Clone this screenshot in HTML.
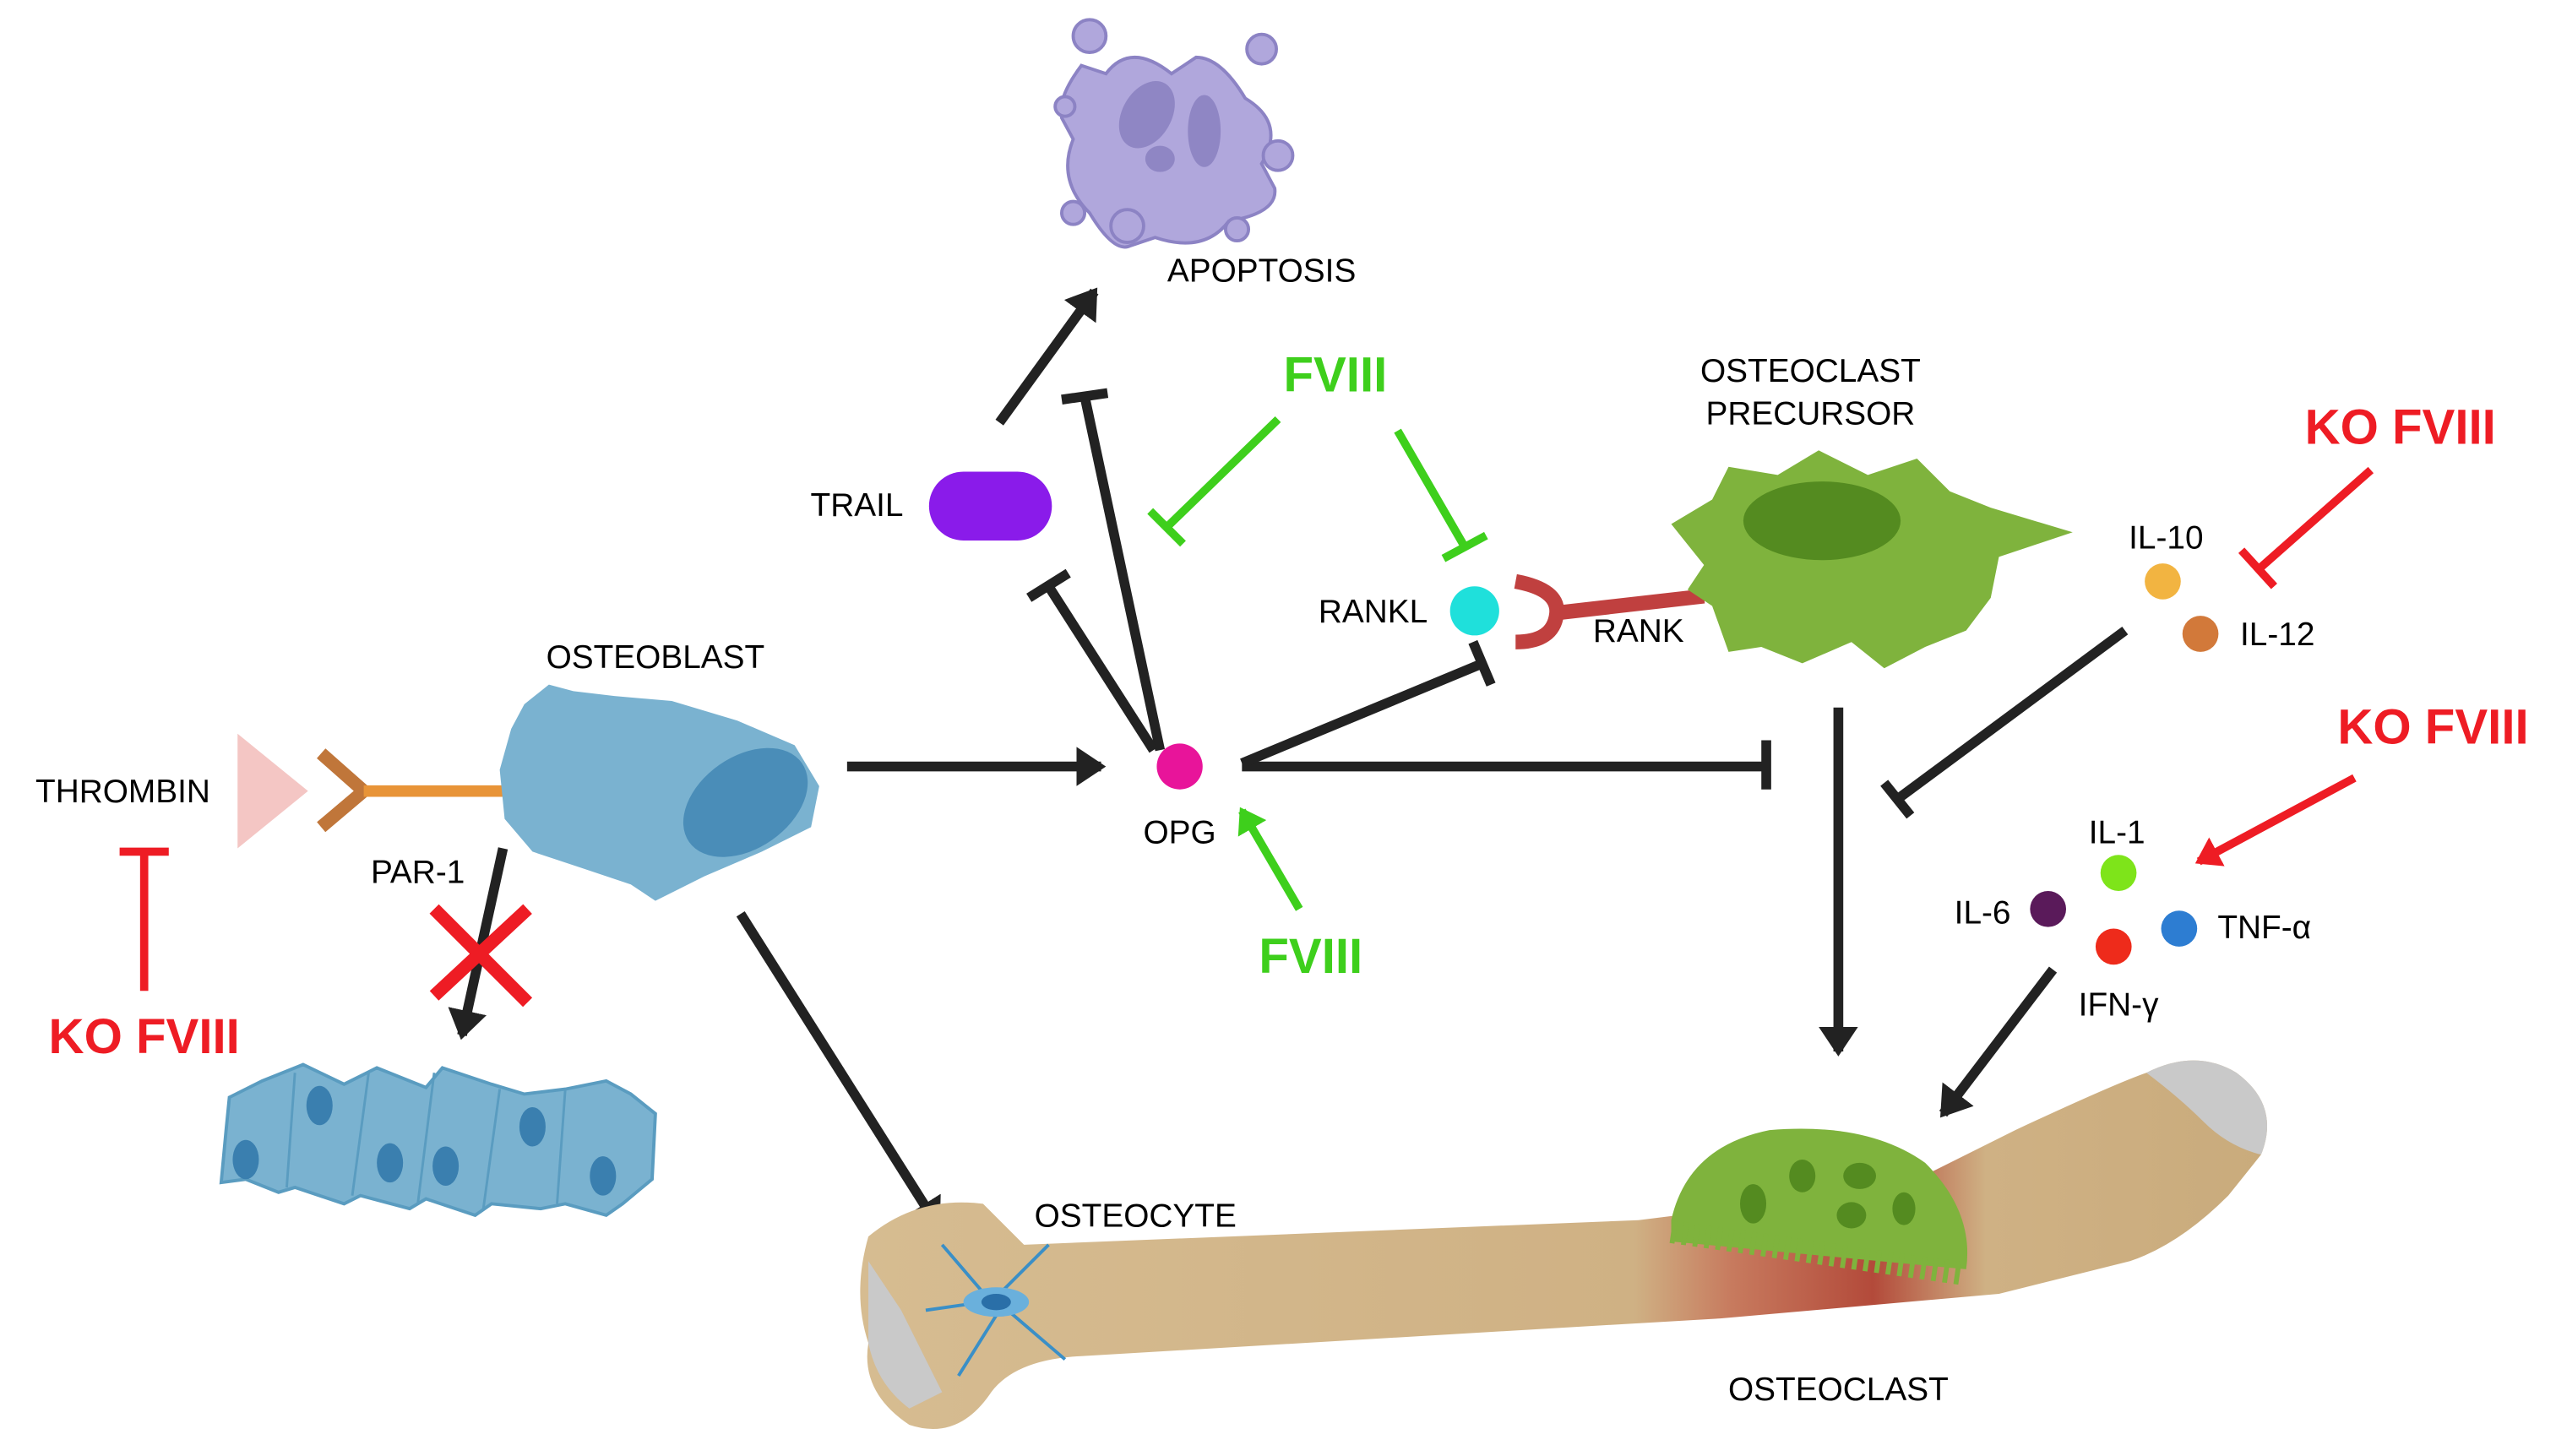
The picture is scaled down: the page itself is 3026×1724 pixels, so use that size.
<!DOCTYPE html>
<html><head><meta charset="utf-8"><style>
html,body{margin:0;padding:0;background:#fff;}
svg{display:block}
text{font-family:"Liberation Sans",sans-serif;}
</style></head><body>
<svg width="3026" height="1724" viewBox="0 0 1560 889" preserveAspectRatio="none" xmlns="http://www.w3.org/2000/svg">
<defs>
<marker id="ab" markerWidth="6" markerHeight="6" refX="2.5" refY="3" orient="auto" markerUnits="strokeWidth"><path d="M0,1 L3,3 L0,5 z" fill="#222"/></marker>
<marker id="ag" markerWidth="6" markerHeight="6" refX="2.5" refY="3" orient="auto" markerUnits="strokeWidth"><path d="M0,1 L3,3 L0,5 z" fill="#3ecf1c"/></marker>
<marker id="ar" markerWidth="6" markerHeight="6" refX="2.5" refY="3" orient="auto" markerUnits="strokeWidth"><path d="M0,1 L3,3 L0,5 z" fill="#ee1c24"/></marker>
<linearGradient id="bone" x1="0" y1="0" x2="1" y2="0"><stop offset="0" stop-color="#d6bc91"/><stop offset="0.55" stop-color="#cfb184"/><stop offset="0.62" stop-color="#c77a5e"/><stop offset="0.72" stop-color="#b34a3a"/><stop offset="0.8" stop-color="#cfb184"/><stop offset="1" stop-color="#c9ab7c"/></linearGradient>
</defs>

<!-- apoptosis -->
<g fill="#b0a7dc" stroke="#8c83c4" stroke-width="2">
<path d="M660,40 L675,45 Q690,25 715,45 L730,35 Q745,35 760,60 Q785,75 770,100 L778,115 Q780,130 750,135 Q735,155 705,145 L690,150 Q680,155 665,130 Q645,110 655,85 L648,72 Q645,60 660,40z"/>
<circle cx="665" cy="22" r="10"/><circle cx="770" cy="30" r="9"/><circle cx="780" cy="95" r="9"/><circle cx="655" cy="130" r="7"/><circle cx="688" cy="138" r="10"/><circle cx="755" cy="140" r="7"/><circle cx="650" cy="65" r="6"/>
</g>
<g fill="#8f86c4"><ellipse cx="700" cy="70" rx="15" ry="22" transform="rotate(30 700 70)"/><ellipse cx="735" cy="80" rx="10" ry="22"/><ellipse cx="708" cy="97" rx="9" ry="8"/></g>
<text x="770" y="172" font-size="20" text-anchor="middle">APOPTOSIS</text>

<!-- black connectors -->
<g stroke="#222" stroke-width="6" fill="none">
<line x1="610" y1="258" x2="668" y2="178" marker-end="url(#ab)"/>
<line x1="708" y1="458" x2="662" y2="242"/><line x1="648" y1="244" x2="676" y2="240"/>
<line x1="704" y1="458" x2="640" y2="358"/><line x1="628" y1="365" x2="652" y2="350"/>
<line x1="517" y1="468" x2="672" y2="468" marker-end="url(#ab)"/>
<line x1="758" y1="468" x2="1078" y2="468"/><line x1="1078" y1="452" x2="1078" y2="482"/>
<line x1="758" y1="466" x2="905" y2="405"/><line x1="899" y1="392" x2="910" y2="418"/>
<line x1="1297" y1="385" x2="1158" y2="488"/><line x1="1150" y1="478" x2="1166" y2="498"/>
<line x1="1122" y1="432" x2="1122" y2="642" marker-end="url(#ab)"/>
<line x1="1253" y1="592" x2="1186" y2="680" marker-end="url(#ab)"/>
<line x1="307" y1="518" x2="282" y2="632" marker-end="url(#ab)"/>
<line x1="452" y1="558" x2="572" y2="748" marker-end="url(#ab)"/>
</g>

<!-- TRAIL -->
<rect x="567" y="288" width="75" height="42" rx="21" fill="#8a1bea"/>
<text x="523" y="315" font-size="20" text-anchor="middle">TRAIL</text>

<!-- green -->
<text x="815" y="239" font-size="30" font-weight="bold" fill="#3ecf1c" text-anchor="middle">FVIII</text>
<g stroke="#3ecf1c" stroke-width="5" fill="none">
<line x1="780" y1="256" x2="712" y2="322"/><line x1="702" y1="312" x2="722" y2="332"/>
<line x1="853" y1="263" x2="894" y2="334"/><line x1="881" y1="341" x2="907" y2="327"/>
<line x1="793" y1="555" x2="758" y2="495" marker-end="url(#ag)"/>
</g>
<text x="800" y="594" font-size="30" font-weight="bold" fill="#3ecf1c" text-anchor="middle">FVIII</text>

<!-- OPG -->
<circle cx="720" cy="468" r="14" fill="#e8149a"/>
<text x="720" y="515" font-size="20" text-anchor="middle">OPG</text>

<!-- RANKL / RANK -->
<circle cx="900" cy="373" r="15" fill="#1fe0db"/>
<text x="838" y="380" font-size="20" text-anchor="middle">RANKL</text>
<path d="M925,355 Q952,360 950,375 Q948,392 925,392" stroke="#c0403f" stroke-width="9" fill="none"/>
<line x1="952" y1="374" x2="1040" y2="364" stroke="#c0403f" stroke-width="9"/>
<text x="1000" y="392" font-size="20" text-anchor="middle">RANK</text>

<!-- osteoclast precursor -->
<path d="M1020,320 L1045,305 L1055,285 L1085,290 L1110,275 L1140,290 L1170,280 L1190,300 L1215,310 L1265,325 L1220,340 L1215,365 L1200,385 L1175,395 L1150,408 L1130,392 L1100,405 L1075,395 L1055,398 L1045,370 L1030,360 L1040,345 Z" fill="#7fb33d"/>
<ellipse cx="1112" cy="318" rx="48" ry="24" fill="#548b20"/>
<text x="1105" y="233" font-size="20" text-anchor="middle">OSTEOCLAST</text>
<text x="1105" y="259" font-size="20" text-anchor="middle">PRECURSOR</text>

<!-- KO FVIII -->
<text x="1465" y="271" font-size="30" font-weight="bold" fill="#ee1c24" text-anchor="middle">KO FVIII</text>
<g stroke="#ee1c24" stroke-width="5" fill="none">
<line x1="1447" y1="287" x2="1378" y2="348"/><line x1="1368" y1="336" x2="1388" y2="358"/>
<line x1="1437" y1="475" x2="1342" y2="526" marker-end="url(#ar)"/>
<line x1="88" y1="605" x2="88" y2="520"/><line x1="73" y1="520" x2="103" y2="520"/>
</g>
<text x="1485" y="454" font-size="30" font-weight="bold" fill="#ee1c24" text-anchor="middle">KO FVIII</text>
<text x="88" y="643" font-size="30" font-weight="bold" fill="#ee1c24" text-anchor="middle">KO FVIII</text>

<!-- cytokines -->
<text x="1322" y="335" font-size="20" text-anchor="middle">IL-10</text>
<circle cx="1320" cy="355" r="11" fill="#f2b441"/>
<circle cx="1343" cy="387" r="11" fill="#d2793a"/>
<text x="1390" y="394" font-size="20" text-anchor="middle">IL-12</text>
<text x="1292" y="515" font-size="20" text-anchor="middle">IL-1</text>
<circle cx="1293" cy="533" r="11" fill="#7ee41a"/>
<text x="1210" y="564" font-size="20" text-anchor="middle">IL-6</text>
<circle cx="1250" cy="555" r="11" fill="#5a1a5a"/>
<circle cx="1330" cy="567" r="11" fill="#2d7dd2"/>
<text x="1382" y="573" font-size="20" text-anchor="middle">TNF-α</text>
<circle cx="1290" cy="578" r="11" fill="#ee2b1b"/>
<text x="1293" y="620" font-size="20" text-anchor="middle">IFN-γ</text>

<!-- thrombin / PAR-1 -->
<text x="75" y="490" font-size="20" text-anchor="middle">THROMBIN</text>
<path d="M145,448 L188,483 L145,518 Z" fill="#f4c6c4"/>
<path d="M196,460 L222,483 L196,505" stroke="#c0763a" stroke-width="8" fill="none"/>
<line x1="222" y1="483" x2="310" y2="483" stroke="#e89438" stroke-width="7"/>
<text x="255" y="539" font-size="20" text-anchor="middle">PAR-1</text>
<g stroke="#ee1c24" stroke-width="8"><line x1="265" y1="555" x2="322" y2="612"/><line x1="322" y1="555" x2="265" y2="608"/></g>

<!-- osteoblast -->
<path d="M320,430 L335,418 L350,422 L375,425 L410,428 L450,440 L485,455 L500,480 L495,505 L465,520 L430,535 L400,550 L385,540 L355,530 L325,520 L308,500 L305,470 L312,445 Z" fill="#7ab2d0"/>
<ellipse cx="455" cy="490" rx="42" ry="28" transform="rotate(-35 455 490)" fill="#4a8db8"/>
<text x="400" y="408" font-size="20" text-anchor="middle">OSTEOBLAST</text>

<!-- osteoblast layer -->
<path d="M140,670 L160,660 L185,650 L210,662 L230,652 L260,664 L270,652 L300,662 L320,668 L345,665 L370,660 L385,668 L400,680 L398,720 L380,735 L370,742 L345,735 L330,738 L300,735 L290,742 L260,732 L250,738 L220,730 L210,735 L180,725 L170,728 L150,720 L135,722 L138,690 Z" fill="#7ab2d0" stroke="#5a9cc0" stroke-width="2"/>
<g stroke="#5a9cc0" stroke-width="1.5" fill="none"><path d="M180,655 L175,725 M225,655 L215,730 M265,655 L255,735 M305,665 L295,738 M345,665 L340,735"/></g>
<g fill="#3a7faf"><ellipse cx="150" cy="708" rx="8" ry="12"/><ellipse cx="195" cy="675" rx="8" ry="12"/><ellipse cx="238" cy="710" rx="8" ry="12"/><ellipse cx="272" cy="712" rx="8" ry="12"/><ellipse cx="325" cy="688" rx="8" ry="12"/><ellipse cx="368" cy="718" rx="8" ry="12"/></g>

<!-- bone -->
<path d="M530,755 Q560,730 600,735 L625,760 L1000,745 L1160,725 L1230,690 Q1290,662 1310,655 Q1340,640 1365,655 Q1392,675 1380,705 L1360,730 Q1330,760 1300,770 L1220,790 L1050,805 L660,828 Q620,830 605,850 Q585,880 555,870 Q525,850 530,820 Q520,790 530,755 Z" fill="url(#bone)"/>
<path d="M1310,655 Q1340,640 1365,655 Q1392,675 1380,705 Q1360,700 1345,685 Q1330,670 1310,655Z" fill="#c9c9c9"/>
<path d="M530,770 L550,800 L575,850 L555,860 Q535,845 530,820 Z" fill="#c9c9c9"/>
<g stroke="#3a8fc7" stroke-width="2" fill="none"><path d="M605,795 L575,760 M610,790 L640,760 M610,800 L585,840 M615,800 L650,830 M600,795 L565,800"/></g>
<ellipse cx="608" cy="795" rx="20" ry="9" fill="#6ab0dc"/><ellipse cx="608" cy="795" rx="9" ry="5" fill="#2a6fa8"/>
<text x="693" y="749" font-size="20" text-anchor="middle">OSTEOCYTE</text>

<!-- osteoclast -->
<path d="M1020,745 Q1030,700 1080,690 Q1140,685 1175,710 Q1205,740 1200,775 L1020,758 Z" fill="#7fb33d"/>
<path d="M1020,752 L1200,778" stroke="#7fb33d" stroke-width="14" stroke-dasharray="3,4"/>
<g fill="#548b20"><ellipse cx="1070" cy="735" rx="8" ry="12"/><ellipse cx="1100" cy="718" rx="8" ry="10"/><ellipse cx="1135" cy="718" rx="10" ry="8"/><ellipse cx="1130" cy="742" rx="9" ry="8"/><ellipse cx="1162" cy="738" rx="7" ry="10"/></g>
<text x="1122" y="855" font-size="20" text-anchor="middle">OSTEOCLAST</text>
</svg>
</body></html>
